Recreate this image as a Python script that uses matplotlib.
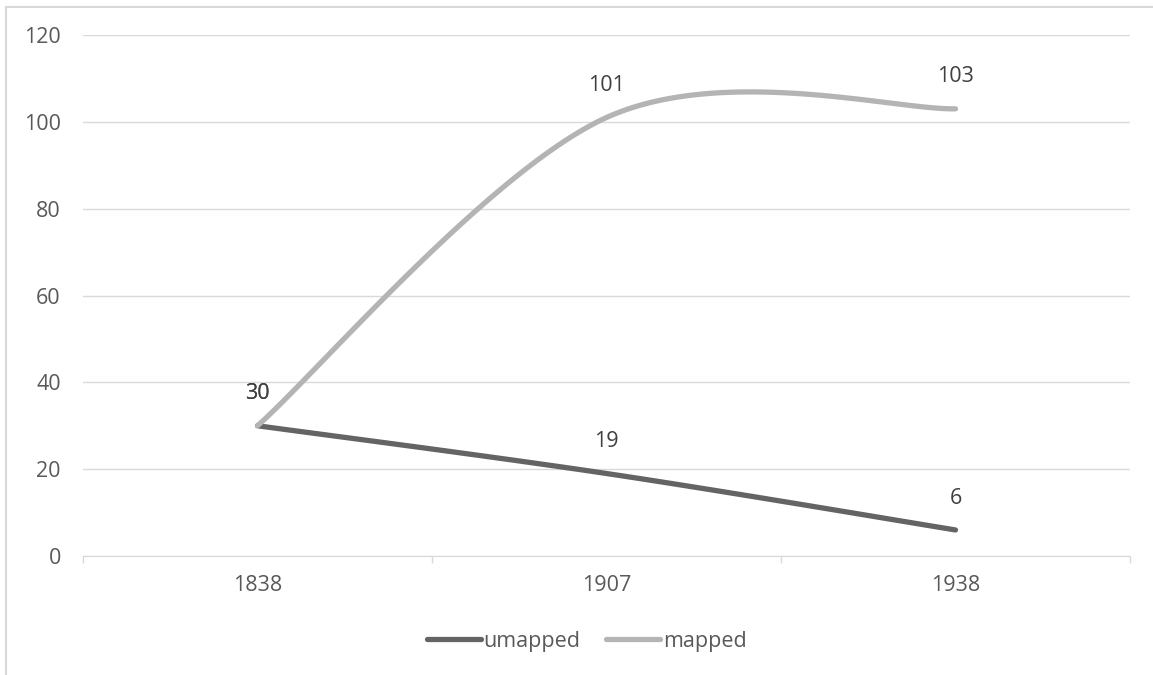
import numpy as np
import matplotlib
matplotlib.use("Agg")
import matplotlib.pyplot as plt
from matplotlib.patches import Rectangle

plt.rcParams['font.family'] = ['Open Sans', 'DejaVu Sans']

# values per year
years = ['1838', '1907', '1938']
umapped = [30, 19, 6]
mapped = [30, 101, 103]

GRID = '#d9d9d9'
TEXT = '#595959'
FS = 15.5


def smooth(xs, ys, n=60):
    # cubic bezier through the points, tension 1/6 like a spreadsheet "smoothed line"
    p = np.column_stack([xs, ys]).astype(float)
    ext = np.vstack([p[0], p, p[-1]])
    out = []
    t = np.linspace(0, 1, n)[:, None]
    for i in range(len(p) - 1):
        p0, p1 = ext[i + 1], ext[i + 2]
        c1 = p0 + (ext[i + 2] - ext[i]) / 6.0
        c2 = p1 - (ext[i + 3] - ext[i + 1]) / 6.0
        seg = ((1 - t) ** 3) * p0 + 3 * ((1 - t) ** 2) * t * c1 + 3 * (1 - t) * t ** 2 * c2 + t ** 3 * p1
        out.append(seg if i == 0 else seg[1:])
    seg = np.vstack(out)
    return seg[:, 0], seg[:, 1]


fig = plt.figure(figsize=(11.53, 6.75), dpi=100)
ax = fig.add_axes([83 / 1153, 1 - 556 / 675, (1130 - 83) / 1153, (556 - 35) / 675])

x = np.arange(len(years))
series = [('umapped', umapped, '#646464'), ('mapped', mapped, '#b4b4b4')]
for name, vals, col in series:
    sx, sy = smooth(x, vals)
    ax.plot(sx, sy, color=col, lw=3.8, solid_capstyle='round', label=name)
    for xi, v in zip(x, vals):
        ax.annotate(str(v), (xi, v), xytext=(0, 23), textcoords='offset points',
                    ha='center', va='center', fontsize=FS, color='#404040')

ax.set_xlim(-0.5, len(years) - 0.5)
ax.set_ylim(0, 120)
ax.set_yticks(range(0, 121, 20))
ax.set_xticks(x)
ax.set_xticklabels(years)
ax.set_xticks(np.arange(-0.5, len(years), 1.0), minor=True)
ax.tick_params(axis='y', length=0, pad=16, labelsize=FS, labelcolor=TEXT)
ax.tick_params(axis='x', which='major', length=0, pad=14, labelsize=FS, labelcolor=TEXT)
ax.tick_params(axis='x', which='minor', length=5, color=GRID, width=1)
ax.grid(axis='y', color=GRID, lw=1)
ax.set_axisbelow(True)
for s in ['top', 'right', 'left']:
    ax.spines[s].set_visible(False)
ax.spines['bottom'].set_color(GRID)

leg = fig.legend(loc='center', bbox_to_anchor=(0.509, 1 - 641 / 675), ncol=2, frameon=False,
                 fontsize=FS, handlelength=2.5, handletextpad=0.12, columnspacing=1.2)
for t in leg.get_texts():
    t.set_color(TEXT)

# chart frame
fig.patches.append(Rectangle((6 / 1153, -0.1), 1.2, 1.1 - 7 / 675, transform=fig.transFigure,
                             fill=False, edgecolor=GRID, lw=1.5))

fig.savefig('out.png', dpi=100)
